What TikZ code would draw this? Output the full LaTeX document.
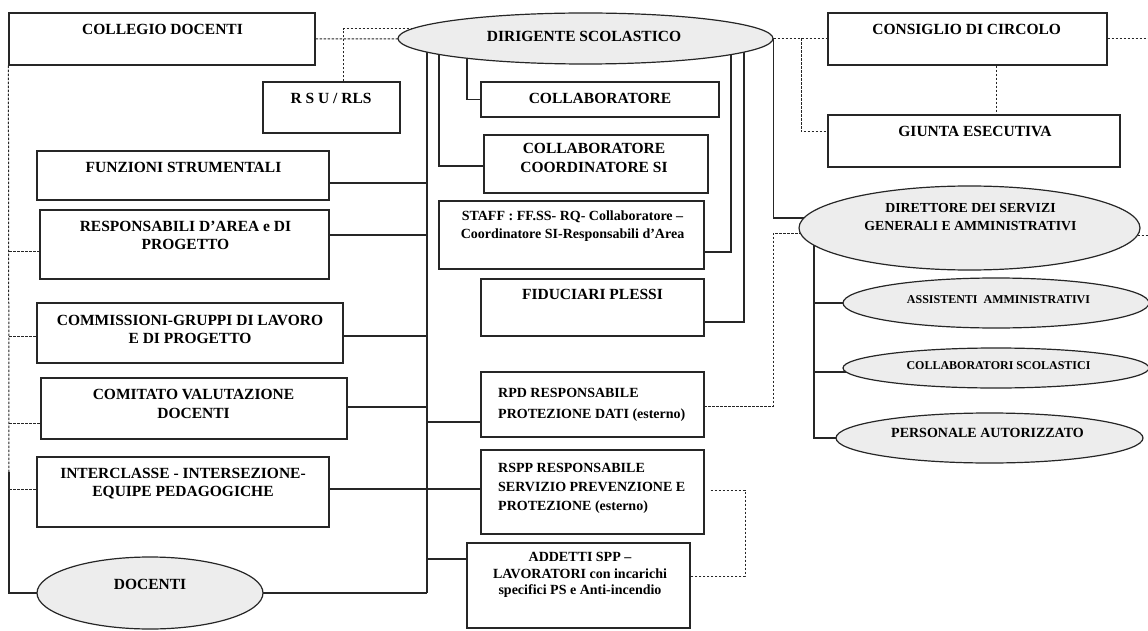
\documentclass[tikz,border=0pt]{standalone}
\usepackage{fontspec}
\setmainfont{Liberation Serif}
\usetikzlibrary{shapes.geometric}
\pgfdeclarelayer{back}
\pgfdeclarelayer{bg}
\pgfsetlayers{back,bg,main}
\begin{document}
\begin{tikzpicture}[x=1pt,y=-1pt,
  box/.style={draw=black!85, line width=1.2pt, fill=white, rectangle, inner sep=0pt},
  ell/.style={draw=black!85, line width=1.2pt, fill=black!7, ellipse, inner sep=0pt},
  tx/.style={inner sep=0pt, anchor=north, align=center, font=\bfseries\fontsize{15.5}{18.5}\selectfont},
  txs/.style={inner sep=0pt, anchor=north, align=center, font=\bfseries\fontsize{14}{18}\selectfont},
  ln/.style={draw=black!85, line width=1.2pt},
  dsh/.style={draw=black!85, line width=1pt, dash pattern=on 2.5pt off 1.5pt}]
\useasboundingbox (0,0) rectangle (1148,631);
\begin{pgfonlayer}{back}
\fill[white] (0,0) rectangle (1148,631);
\end{pgfonlayer}

% boxes
\node[box, minimum width=306pt, minimum height=52pt] (cd) at (162,39) {};
\node[box, minimum width=137pt, minimum height=51pt] (rsu) at (331.5,107.5) {};
\node[box, minimum width=238pt, minimum height=35pt] (col) at (600,99.5) {};
\node[box, minimum width=224pt, minimum height=58pt] (cc) at (596,164) {};
\node[box, minimum width=265pt, minimum height=68pt] (staff) at (571.5,235) {};
\node[box, minimum width=223pt, minimum height=57pt] (fid) at (592.5,307.5) {};
\node[box, minimum width=223pt, minimum height=65pt] (rpd) at (592.5,404.5) {};
\node[box, minimum width=223pt, minimum height=84pt] (rspp) at (592.5,492) {};
\node[box, minimum width=223pt, minimum height=85pt] (add) at (578.5,585.5) {};
\node[box, minimum width=292pt, minimum height=49pt] (fs) at (183,175.5) {};
\node[box, minimum width=289pt, minimum height=69pt] (ra) at (184.5,244.5) {};
\node[box, minimum width=306pt, minimum height=60pt] (com) at (190,333) {};
\node[box, minimum width=306pt, minimum height=61pt] (cv) at (194,408.5) {};
\node[box, minimum width=292pt, minimum height=70pt] (ic) at (183,492) {};
\node[box, minimum width=279pt, minimum height=52pt] (cdc) at (967.5,39) {};
\node[box, minimum width=292pt, minimum height=52pt] (ge) at (974,141) {};

% ellipses
\node[ell, minimum width=375pt, minimum height=51pt] (ds) at (585.5,38.5) {};
\node[ell, minimum width=341pt, minimum height=84pt] (dsga) at (969.5,228) {};
\node[ell, minimum width=306pt, minimum height=50pt] (ass) at (996,303) {};
\node[ell, minimum width=306pt, minimum height=40pt] (cs) at (996,368) {};
\node[ell, minimum width=307pt, minimum height=50pt] (pa) at (989.5,438) {};
\node[ell, minimum width=226pt, minimum height=72pt] (doc) at (150,593) {};

% texts
\node[tx] (cdT) at (162.5,23.9) {COLLEGIO DOCENTI};
\node[tx] (rsuT) at (331,92.9) {R S U / RLS};
\node[tx] (colT) at (600,92.9) {COLLABORATORE};
\node[tx, font=\bfseries\fontsize{15.5}{19}\selectfont] (ccT) at (594,142.9) {COLLABORATORE\\COORDINATORE SI};
\node[txs] (staffT) at (572.5,210.4) {STAFF : FF.SS- RQ- Collaboratore –\\Coordinatore SI-Responsabili d’Area};
\node[tx] (fidT) at (592.5,288.9) {FIDUCIARI PLESSI};
\node[txs, anchor=north west, align=left, font=\bfseries\fontsize{14}{21}\selectfont] (rpdT) at (498,388.4) {RPD RESPONSABILE\\PROTEZIONE DATI (esterno)};
\node[txs, anchor=north west, align=left, font=\bfseries\fontsize{14}{19}\selectfont] (rsppT) at (498,463.4) {RSPP RESPONSABILE\\SERVIZIO PREVENZIONE E\\PROTEZIONE (esterno)};
\node[txs, font=\bfseries\fontsize{14}{16.5}\selectfont] (addT) at (580,552.4) {ADDETTI SPP –\\LAVORATORI con incarichi\\specifici PS e Anti-incendio};
\node[tx] (fsT) at (183.5,161.9) {FUNZIONI STRUMENTALI};
\node[tx] (raT) at (185.5,220.9) {RESPONSABILI D’AREA e DI\\PROGETTO};
\node[tx] (comT) at (190,314.9) {COMMISSIONI-GRUPPI DI LAVORO\\E DI PROGETTO};
\node[tx, font=\bfseries\fontsize{15.5}{19}\selectfont] (cvT) at (193.5,388.9) {COMITATO VALUTAZIONE\\DOCENTI};
\node[tx] (icT) at (183,467.9) {INTERCLASSE - INTERSEZIONE-\\EQUIPE PEDAGOGICHE};
\node[tx] (cdcT) at (966.7,23.9) {CONSIGLIO DI CIRCOLO};
\node[tx] (geT) at (975,125.9) {GIUNTA ESECUTIVA};
\node[tx] (dsT) at (584,30.9) {DIRIGENTE SCOLASTICO};
\node[tx, font=\bfseries\fontsize{13.8}{18}\selectfont] (dsgaT) at (970.5,203.4) {DIRETTORE DEI SERVIZI\\GENERALI E AMMINISTRATIVI};
\node[tx, font=\bfseries\fontsize{12}{14}\selectfont] (assT) at (998.5,295) {ASSISTENTI\ \ AMMINISTRATIVI};
\node[tx, font=\bfseries\fontsize{12}{14}\selectfont] (csT) at (998.5,361) {COLLABORATORI SCOLASTICI};
\node[txs] (paT) at (987.5,428.4) {PERSONALE AUTORIZZATO};
\node[tx] (docT) at (150,578.9) {DOCENTI};

% coordinates for connector bends and free ends
\coordinate (trT) at (427,45);
\coordinate (trB) at (427,593);
\coordinate (lsM) at (9,472);
\coordinate (lsB) at (9,593);
\coordinate (d1) at (439,45);
\coordinate (d2) at (467,50);
\coordinate (d3) at (731,50);
\coordinate (d4) at (744,50);
\coordinate (v1) at (814,240);
\coordinate (g1) at (801,38.5);
\coordinate (rE) at (1148,39);
\coordinate (rE2) at (1148,235);
\coordinate (k1) at (773,233);
\coordinate (k2) at (745,490);

\begin{pgfonlayer}{bg}
% solid connectors
\draw[ln] (trT) -- (trB);
\draw[ln] ([yshift=-7.5pt]fs.east) -- ([yshift=-7.5pt]fs.east -| trT);
\draw[ln] ([yshift=9.5pt]ra.east) -- ([yshift=9.5pt]ra.east -| trT);
\draw[ln] ([yshift=-3pt]com.east) -- ([yshift=-3pt]com.east -| trT);
\draw[ln] ([yshift=1.5pt]cv.east) -- ([yshift=1.5pt]cv.east -| trT);
\draw[ln] ([yshift=3pt]ic.east) -- ([yshift=3pt]ic.east -| rspp.west);
\draw[ln] ([yshift=-17.5pt]rpd.west -| trT) -- ([yshift=-17.5pt]rpd.west);
\draw[ln] ([yshift=26.5pt]add.west -| trT) -- ([yshift=26.5pt]add.west);
\draw[ln] (lsM) -- (lsB) -- (doc.center);
\draw[ln] (doc.center) -- (doc.center -| trB);
\draw[ln] (d1) |- ([yshift=-2pt]cc.west);
\draw[ln] (d2) |- (col.west);
\draw[ln] (d3) |- ([yshift=-17pt]staff.east);
\draw[ln] (d4) |- ([yshift=-14.5pt]fid.east);
\draw[ln] (ds.east) |- ([yshift=10pt]dsga.center);
\draw[ln] (v1) |- (pa.center);
\draw[ln] (v1 |- ass.center) -- (ass.center);
\draw[ln] ([yshift=-4pt]cs.center -| v1) -- ([yshift=-4pt]cs.center);
% dashed connectors
\draw[dsh] (cd.east) -- (ds.center);
\draw[dsh] ([xshift=11.5pt]rsu.north) |- ([yshift=9.5pt]ds.center);
\draw[dsh] (ds.center) -- (ds.center -| cdc.west);
\draw[dsh] (g1) |- ([yshift=9pt]ge.west);
\draw[dsh] (cdc.east) -- (rE);
\draw[dsh] ([xshift=28.5pt]cdc.south) -- ([xshift=28.5pt]cdc.south |- ge.north);
\draw[dsh] (dsga.center |- rE2) -- (rE2);
\draw[dsh] ([yshift=-5pt]dsga.center) -- (k1) |- ([yshift=-1.5pt]rpd.east);
\draw[dsh] ([xshift=6pt,yshift=2pt]rspp.east) -- (k2) |- ([yshift=9.5pt]add.east);
\draw[dsh] (cd.south west) -- (lsM);
\draw[dsh] ([yshift=-6.5pt]ra.west -| lsM) -- ([yshift=-6.5pt]ra.west);
\draw[dsh] ([yshift=-3pt]com.west -| lsM) -- ([yshift=-3pt]com.west);
\draw[dsh] ([yshift=-14.5pt]cv.west -| lsM) -- ([yshift=-14.5pt]cv.west);
\draw[dsh] ([yshift=3pt]ic.west -| lsM) -- ([yshift=3pt]ic.west);
\end{pgfonlayer}
\end{tikzpicture}
\end{document}
